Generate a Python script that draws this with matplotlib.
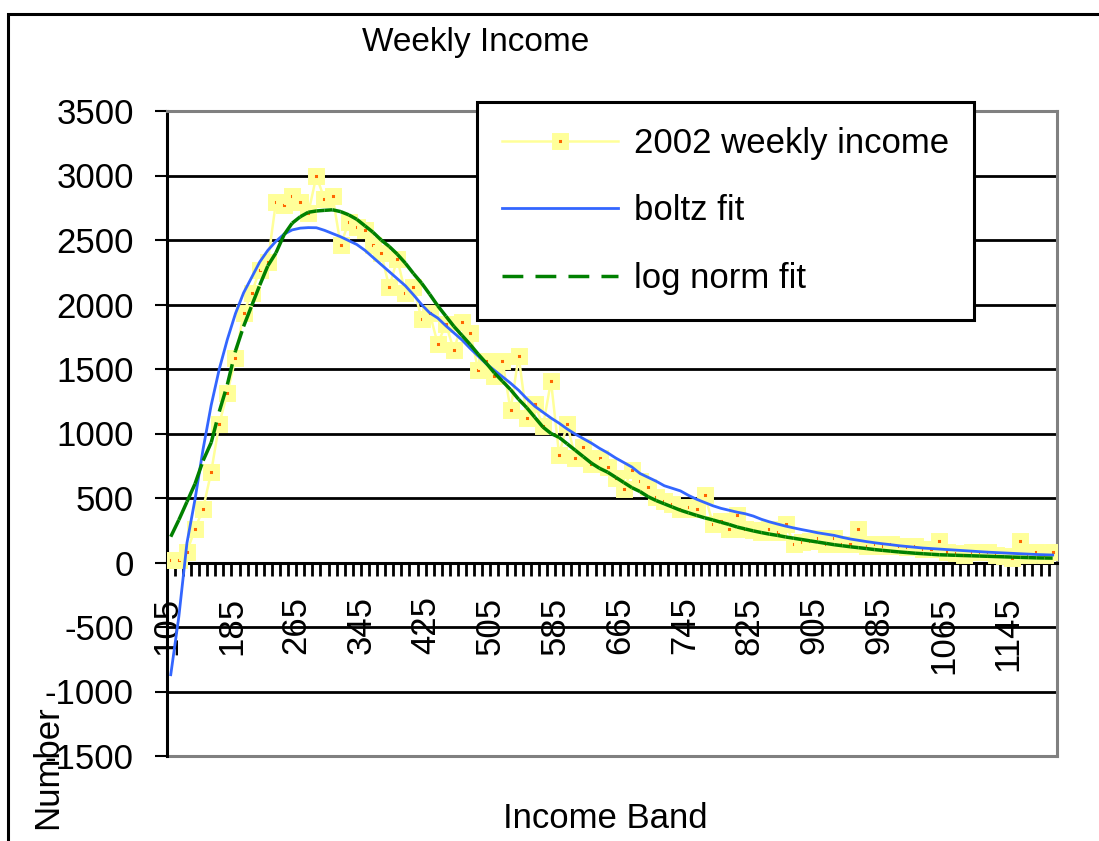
import matplotlib
matplotlib.use('Agg')
import matplotlib.pyplot as plt
from matplotlib.lines import Line2D
from matplotlib.patches import Rectangle
import numpy as np

plt.rcParams['font.family'] = ['Liberation Sans', 'DejaVu Sans']
plt.rcParams['axes.unicode_minus'] = False

# income bands (lower edge of each 10-wide band)
bands = list(range(105, 1205, 10))

# 2002 weekly income counts
income = [18, 18, 83, 261, 416, 702, 1077, 1314, 1583, 1934,
          2089, 2269, 2329, 2794, 2771, 2840, 2794, 2709, 2995, 2817,
          2840, 2461, 2639, 2600, 2574, 2461, 2399, 2135, 2352, 2089,
          2138, 1888, 1934, 1694, 1849, 1645, 1864, 1779, 1493, 1562,
          1446, 1562, 1182, 1601, 1120, 1229, 1056, 1405, 836, 1074,
          811, 896, 764, 811, 741, 656, 571, 720, 633, 589,
          510, 478, 455, 416, 434, 416, 524, 302, 323, 261,
          369, 261, 250, 238, 261, 238, 302, 147, 160, 168,
          191, 147, 191, 147, 147, 261, 129, 147, 129, 147,
          129, 120, 129, 103, 103, 168, 83, 70, 60, 83,
          83, 83, 60, 50, 36, 168, 60, 83, 60, 83]

boltz = [-870, -420, 150, 490, 880, 1220, 1500, 1730, 1930, 2090,
         2210, 2330, 2420, 2490, 2545, 2578, 2592, 2596, 2595, 2575,
         2550, 2525, 2495, 2465, 2420, 2365, 2310, 2255, 2200, 2145,
         2075, 2000, 1935, 1895, 1835, 1780, 1725, 1660, 1600, 1540,
         1490, 1440, 1390, 1335, 1270, 1211, 1165, 1120, 1080, 1035,
         995, 960, 925, 885, 850, 810, 775, 740, 690, 660,
         630, 595, 575, 555, 520, 490, 465, 440, 420, 405,
         390, 378, 360, 335, 315, 298, 282, 268, 255, 243,
         230, 220, 210, 195, 182, 172, 162, 153, 145, 138,
         130, 124, 118, 112, 108, 104, 100, 96, 92, 88,
         84, 80, 77, 74, 71, 68, 65, 62, 60, 58]

lognorm = [200, 330, 470, 610, 790, 930, 1170, 1380, 1640, 1830,
           1990, 2150, 2300, 2400, 2540, 2630, 2680, 2715, 2725, 2730,
           2734, 2720, 2695, 2660, 2610, 2560, 2500, 2450, 2390, 2320,
           2240, 2166, 2080, 1990, 1910, 1830, 1760, 1690, 1615, 1545,
           1470, 1405, 1340, 1265, 1200, 1125, 1050, 1000, 970, 920,
           870, 820, 770, 730, 700, 660, 620, 580, 550, 510,
           480, 455, 430, 405, 385, 365, 346, 330, 312, 295,
           275, 260, 245, 232, 220, 210, 198, 188, 178, 168,
           158, 148, 138, 130, 122, 115, 108, 100, 94, 88,
           82, 77, 72, 68, 64, 60, 58, 56, 54, 52,
           50, 48, 46, 44, 42, 40, 38, 36, 35, 34]

yellow = '#FFFF99'
orange = '#FF6600'
blue = '#3366FF'
green = '#008000'
green_dash = (0, (6, 3.5))

fig = plt.figure(figsize=(10.99, 8.41), dpi=100)
ax = fig.add_axes([166.7 / 1099, 1 - 756 / 841, 890 / 1099, 645 / 841])

x = np.arange(len(bands))

line_inc, = ax.plot(x, income, color=yellow, lw=1.8, marker='s', ms=7.8,
                    mew=5, mfc=orange, mec=yellow, zorder=3)
line_boltz, = ax.plot(x, boltz, color=blue, lw=2, zorder=4)
# Excel restarts the dash pattern on every segment
for i in range(len(x) - 1):
    ax.plot(x[i:i + 2], lognorm[i:i + 2], color=green, lw=2.5,
            ls=green_dash, dash_capstyle='butt', zorder=5)
green_handle = Line2D([], [], color=green, lw=2.5, ls=green_dash)

ax.set_xlim(-0.5, len(bands) - 0.5)
ax.set_ylim(-1500, 3500)
ax.set_yticks(np.arange(-1500, 3501, 500))

# category axis crosses at zero, ticks between categories
ax.spines['bottom'].set_position(('data', 0))
ax.spines['bottom'].set_linewidth(2.2)
ax.spines['left'].set_linewidth(2.2)
for s in ['top', 'right']:
    ax.spines[s].set_color('#808080')
    ax.spines[s].set_linewidth(2.2)
ax.plot([0, 1], [0, 0], transform=ax.transAxes, color='#808080', lw=2.2,
        clip_on=False, zorder=2)

ax.set_xticks(np.arange(0, len(bands), 8) - 0.5)
ax.set_xticklabels([str(b) for b in bands[::8]], rotation=90)
ax.set_xticks(np.arange(len(bands) + 1) - 0.5, minor=True)
ax.tick_params(axis='x', which='both', direction='out', length=9.4, width=2,
               labelsize=25, pad=15)
ax.tick_params(axis='y', direction='out', length=8.6, width=1.5,
               labelsize=25, pad=15)

ax.set_axisbelow(True)
ax.grid(axis='y', color='black', lw=2)

leg = ax.legend([line_inc, line_boltz, green_handle],
                ['2002 weekly income', 'boltz fit', 'log norm fit'],
                loc='upper left', bbox_to_anchor=(476.7 / 1099, 1 - 101.7 / 841),
                bbox_transform=fig.transFigure, borderaxespad=0,
                fontsize=25, numpoints=1, handlelength=3.36, handletextpad=0.45,
                labelspacing=1.0, borderpad=0.72, fancybox=False, framealpha=1)
leg.get_frame().set_edgecolor('black')
leg.get_frame().set_linewidth(2.2)

fig.text(476 / 1099, 1 - 43 / 841, 'Weekly Income', fontsize=24,
         ha='center', va='center')
fig.text(605 / 1099, 1 - 818 / 841, 'Income Band', fontsize=25,
         ha='center', va='center')
fig.text(48 / 1099, 1 - 767 / 841, 'Number', fontsize=25, rotation=90,
         ha='center', va='center')

# chart area border (runs off the right and bottom of the image)
fig.add_artist(Rectangle((8 / 1099, -0.1), 1.5, 1.1 - 14 / 841, fill=False,
                         edgecolor='black', lw=2.2, transform=fig.transFigure))

fig.savefig('out.png', dpi=100)
